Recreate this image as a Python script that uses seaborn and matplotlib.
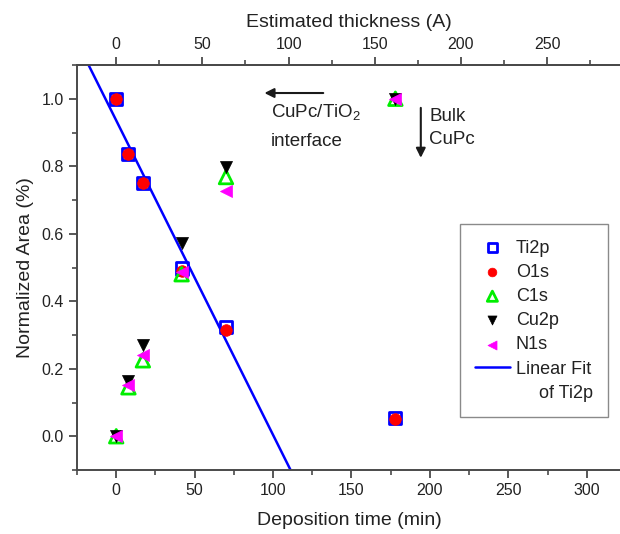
import numpy as np
import pandas as pd
import matplotlib
matplotlib.use("Agg")
import matplotlib.pyplot as plt
import seaborn as sns
from matplotlib.ticker import MultipleLocator
from matplotlib.lines import Line2D

# ---------------- data ----------------
time_min = [0, 7.8, 17, 41.7, 70, 178]
ti2p = [1.00, 0.837, 0.750, 0.497, 0.323, 0.055]
o1s = [1.00, 0.837, 0.750, 0.490, 0.314, 0.051]
c1s = [0.00, 0.145, 0.225, 0.480, 0.768, 1.00]
cu2p = [0.00, 0.164, 0.270, 0.572, 0.798, 1.00]
n1s = [0.00, 0.152, 0.240, 0.486, 0.726, 1.00]
fit_points = 5          # linear fit of Ti2p over the first points
thickness_per_min = 0.91  # estimated thickness (A) per minute of deposition

x_ticks = [0, 50, 100, 150, 200, 250, 300]
y_ticks = [0.0, 0.2, 0.4, 0.6, 0.8, 1.0]
top_ticks = [0, 50, 100, 150, 200, 250]

sns.set_theme(style="white")
plt.rcParams["font.family"] = ["Liberation Sans", "DejaVu Sans"]
plt.rcParams["mathtext.default"] = "regular"

fig = plt.figure(figsize=(6.2, 5.34), dpi=100)
ax = fig.add_axes([77 / 620, 64 / 534, 1 - 77 / 620 + 0.002, (470 - 65) / 534])

spine_c = "#4a4a4a"
text_c = "#222222"

series = [
    ("Ti2p", ti2p, dict(marker="s", s=75, facecolor="none", edgecolor="#0000ff", linewidth=2.0, color="#0000ff")),
    ("O1s", o1s, dict(marker="o", s=70, color="#ff0000", edgecolor="#ff0000", linewidth=0.5)),
    ("C1s", c1s, dict(marker="^", s=95, facecolor="none", edgecolor="#00ee00", linewidth=2.0, color="#00ee00")),
    ("Cu2p", cu2p, dict(marker="v", s=75, color="#000000", edgecolor="#000000", linewidth=0.5)),
    ("N1s", n1s, dict(marker="<", s=75, color="#ff00ff", edgecolor="#ff00ff", linewidth=0.5)),
]
for name, vals, kw in series:
    df = pd.DataFrame({"t": time_min, "v": vals})
    sns.scatterplot(data=df, x="t", y="v", ax=ax, label=name, zorder=3, **kw)

# linear fit of Ti2p
slope, icpt = np.polyfit(time_min[:fit_points], ti2p[:fit_points], 1)
fx = np.array([-25, 330])
sns.lineplot(x=fx, y=slope * fx + icpt, ax=ax, color="#0000ff", linewidth=1.8,
             label="Linear Fit", zorder=2)

ax.set_xlim(-25, 322)
ax.set_ylim(-0.1, 1.1)
ax.set_xticks(x_ticks)
ax.set_yticks(y_ticks)
ax.set_yticklabels([f"{v:.1f}" for v in y_ticks])
ax.xaxis.set_minor_locator(MultipleLocator(25))
ax.yaxis.set_minor_locator(MultipleLocator(0.1))
ax.tick_params(which="major", direction="out", length=6, width=1.3, color=spine_c,
               labelsize=11.5, labelcolor=text_c, bottom=True, left=True)
ax.tick_params(which="minor", direction="out", length=3.5, width=1.2, color=spine_c,
               bottom=True, left=True)
for side in ["left", "bottom", "top"]:
    ax.spines[side].set_color(spine_c)
    ax.spines[side].set_linewidth(1.4)
ax.spines["right"].set_visible(False)

ax.set_xlabel("Deposition time (min)", fontsize=14, color=text_c, labelpad=10)
ax.set_ylabel("Normalized Area (%)", fontsize=14, color=text_c, labelpad=5)

sec = ax.secondary_xaxis("top", functions=(lambda t: t * thickness_per_min,
                                           lambda d: d / thickness_per_min))
sec.set_xticks(top_ticks)
sec.xaxis.set_minor_locator(MultipleLocator(25))
sec.tick_params(which="major", direction="out", length=6, width=1.3, color=spine_c,
                labelsize=11.5, labelcolor=text_c)
sec.tick_params(which="minor", direction="out", length=3.5, width=1.2, color=spine_c)
sec.spines["top"].set_color(spine_c)
sec.spines["top"].set_linewidth(1.4)
sec.set_xlabel("Estimated thickness (A)", fontsize=14, color=text_c, labelpad=7)

# annotations
ax.annotate("", xy=(94.5, 1.017), xytext=(132, 1.017),
            arrowprops=dict(arrowstyle="-|>", color="k", lw=1.5, mutation_scale=14,
                            shrinkA=0, shrinkB=0))
ax.text(98.8, 0.962, "CuPc/TiO$_2$", fontsize=13.5, color=text_c, va="center", ha="left")
ax.text(98.8, 0.874, "interface", fontsize=13.5, color=text_c, va="center", ha="left")
ax.annotate("", xy=(194.2, 0.825), xytext=(194.2, 0.973),
            arrowprops=dict(arrowstyle="-|>", color="k", lw=1.5, mutation_scale=14,
                            shrinkA=0, shrinkB=0))
ax.text(199.7, 0.948, "Bulk", fontsize=13.5, color=text_c, va="center", ha="left")
ax.text(199.7, 0.879, "CuPc", fontsize=13.5, color=text_c, va="center", ha="left")

# legend
handles, labels = ax.get_legend_handles_labels()
handles.append(Line2D([], [], color="none"))
labels.append("\u2002\u2002 of Ti2p")
leg = ax.legend(handles, labels, loc="upper left", bbox_to_anchor=(0.7035, 0.607),
                borderaxespad=0, fontsize=13, frameon=True, fancybox=False,
                framealpha=1, edgecolor="#8a8a8a", labelspacing=0.4,
                handlelength=1.9, handletextpad=0.35, borderpad=0.85,
                markerscale=0.75)
leg.get_frame().set_linewidth(1.0)
for t in leg.get_texts():
    t.set_color(text_c)

fig.savefig("out.png", dpi=100)
